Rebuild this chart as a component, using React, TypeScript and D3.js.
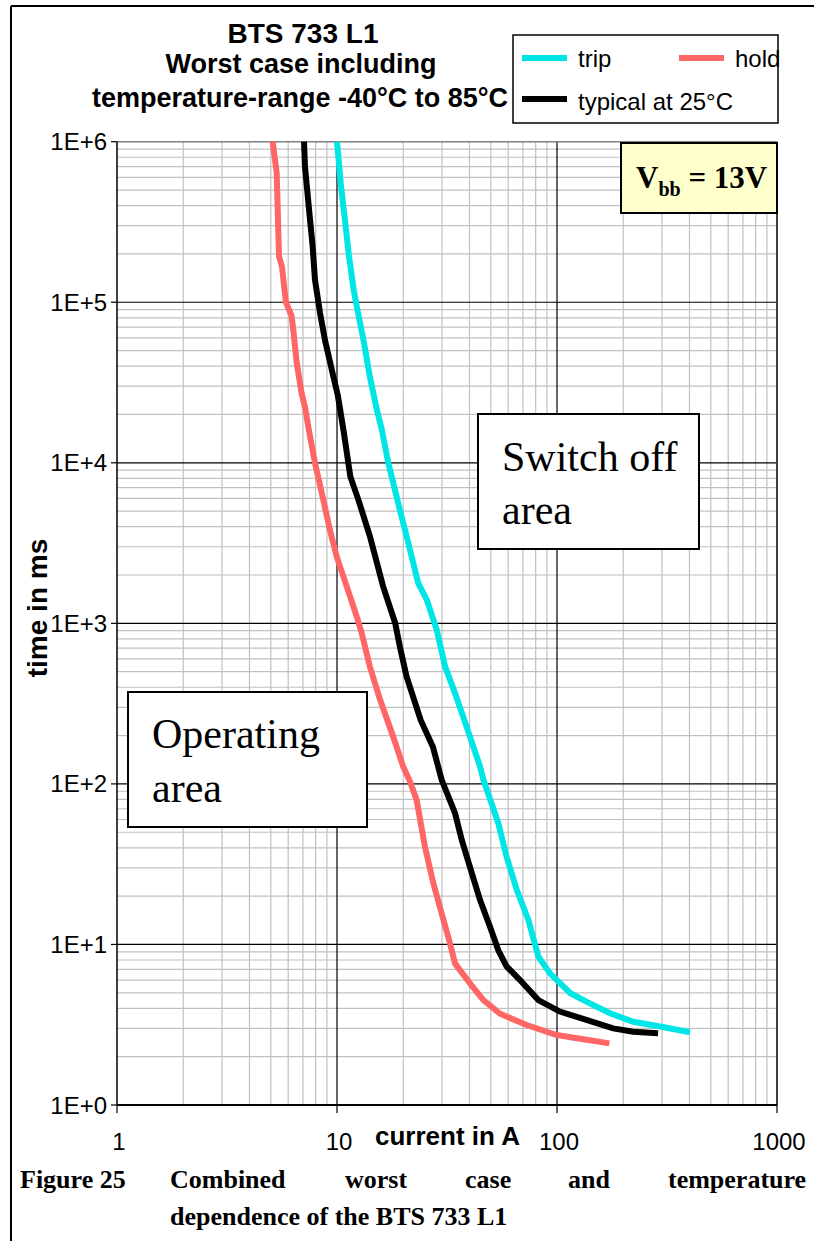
import React from "react";
import * as d3 from "d3";

// ---- data ----
const holdCurrent = [5.10, 5.32, 5.45, 5.62, 5.86, 6.22, 6.33, 6.56, 6.91, 7.16, 7.45, 7.94, 8.66, 9.29, 9.97, 11.07, 12.3, 12.95, 14.1, 15.7, 18.0, 20.0, 21.5, 23.0, 25.1, 27.4, 29.9, 32.6, 34.4, 40.3, 46.3, 55.1, 72.8, 99.7, 132, 173];
const holdTime = [1e6, 6.4e5, 1.93e5, 1.67e5, 1.0e5, 8.2e4, 6.7e4, 4.2e4, 2.7e4, 2.2e4, 1.6e4, 1.0e4, 5.9e3, 3.8e3, 2.6e3, 1.7e3, 1.1e3, 869, 538, 334, 197, 128, 103, 79.5, 40.7, 24.1, 15.6, 10.2, 7.6, 5.7, 4.5, 3.7, 3.15, 2.73, 2.57, 2.42];

const typCurrent = [7.08, 7.15, 7.54, 7.75, 7.94, 8.37, 8.82, 9.62, 10.1, 10.7, 11.5, 12.5, 14.1, 16.2, 18.4, 19.3, 20.7, 24.0, 27.3, 29.9, 34.4, 36.9, 41.0, 44.7, 49.6, 54.1, 59.0, 67.9, 82.3, 103, 136, 180, 222, 288];
const typTime = [1e6, 7.0e5, 3.27e5, 2.23e5, 1.38e5, 8.6e4, 5.8e4, 3.45e4, 2.6e4, 1.6e4, 8.2e3, 5.9e3, 3.5e3, 1.7e3, 1.0e3, 718, 467, 250, 170, 106, 65.7, 44.8, 27.8, 18.9, 12.9, 9.2, 7.3, 6.0, 4.5, 3.82, 3.39, 3.0, 2.86, 2.8];

const tripCurrent = [10.0, 10.4, 10.8, 11.3, 11.9, 12.3, 13.2, 14.1, 15.1, 16.0, 17.1, 19.3, 21.1, 23.4, 25.6, 28.4, 31.0, 34.4, 38.8, 44.7, 46.3, 54.1, 59.0, 65.6, 74.1, 82.3, 92.9, 115, 136, 174, 222, 294, 402];
const tripTime = [1e6, 5.5e5, 3.5e5, 2.0e5, 1.2e5, 9.4e4, 5.8e4, 3.45e4, 2.2e4, 1.6e4, 1.0e4, 5.1e3, 3.16e3, 1.78e3, 1.4e3, 912, 538, 367, 228, 128, 106, 56.9, 35.2, 21.9, 14.2, 8.4, 6.6, 4.97, 4.4, 3.73, 3.3, 3.08, 2.84];

const xTickValues = [1, 10, 100, 1000];
const xTickLabels = ["1", "10", "100", "1000"];
const yTickValues = [1, 10, 100, 1000, 1e4, 1e5, 1e6];
const yTickLabels = ["1E+0", "1E+1", "1E+2", "1E+3", "1E+4", "1E+5", "1E+6"];

const titleLines = ["BTS 733 L1", "Worst case including", "temperature-range -40°C to 85°C"];
const legendLabels = { trip: "trip", hold: "hold", typ: "typical at 25°C" };
const captionWords = ["Figure 25", "Combined", "worst", "case", "and", "temperature"];
const captionLine2 = "dependence of the BTS 733 L1";

const COLORS = { trip: "#00E5E5", hold: "#FF6666", typ: "#000000" };
const SANS = "'Liberation Sans', Arial, sans-serif";
const SERIF = "'Liberation Serif', 'Times New Roman', serif";

const W = 814;
const H = 1241;
const plot = { left: 117, right: 777, top: 141.7, bottom: 1105 };

export default function App() {
  const x = d3.scaleLog().domain([1, 1000]).range([plot.left, plot.right]);
  const y = d3.scaleLog().domain([1, 1e6]).range([plot.bottom, plot.top]);

  const minorX: number[] = [];
  for (let k = 0; k < 3; k++) for (let m = 2; m <= 9; m++) minorX.push(m * Math.pow(10, k));
  const minorY: number[] = [];
  for (let k = 0; k < 6; k++) for (let m = 2; m <= 9; m++) minorY.push(m * Math.pow(10, k));

  const line = d3
    .line<[number, number]>()
    .x((d) => x(d[0]))
    .y((d) => y(d[1]))
    .curve(d3.curveLinear);

  const zip = (a: number[], b: number[]) => a.map((v, i) => [v, b[i]] as [number, number]);
  const series = [
    { key: "hold", data: zip(holdCurrent, holdTime), color: COLORS.hold },
    { key: "typ", data: zip(typCurrent, typTime), color: COLORS.typ },
    { key: "trip", data: zip(tripCurrent, tripTime), color: COLORS.trip },
  ];

  const captionX = [20, 170, 345, 465, 568, 668];

  return (
    <svg
      width={W}
      height={H}
      style={{ position: "absolute", left: 0, top: 0, background: "#fff" }}
    >
      {/* outer frame */}
      <line x1={11} y1={6} x2={W} y2={6} stroke="#000" strokeWidth={2} />
      <line x1={11} y1={6} x2={11} y2={H} stroke="#000" strokeWidth={2} />

      {/* title */}
      <text x={303} y={43} textAnchor="middle" fontFamily={SANS} fontWeight="bold" fontSize={28}>
        {titleLines[0]}
      </text>
      <text x={301} y={73} textAnchor="middle" fontFamily={SANS} fontWeight="bold" fontSize={27}>
        {titleLines[1]}
      </text>
      <text x={300} y={107} textAnchor="middle" fontFamily={SANS} fontWeight="bold" fontSize={27}>
        {titleLines[2]}
      </text>

      {/* minor grid */}
      {minorX.map((v) => (
        <line key={"mx" + v} x1={x(v)} x2={x(v)} y1={plot.top} y2={plot.bottom} stroke="#c0c0c0" strokeWidth={1.2} />
      ))}
      {minorY.map((v) => (
        <line key={"my" + v} x1={plot.left} x2={plot.right} y1={y(v)} y2={y(v)} stroke="#c0c0c0" strokeWidth={1.2} />
      ))}
      {/* major grid */}
      {[10, 100].map((v) => (
        <line key={"Mx" + v} x1={x(v)} x2={x(v)} y1={plot.top} y2={plot.bottom} stroke="#000" strokeWidth={1.2} />
      ))}
      {[10, 100, 1000, 1e4, 1e5].map((v) => (
        <line key={"My" + v} x1={plot.left} x2={plot.right} y1={y(v)} y2={y(v)} stroke="#000" strokeWidth={1.2} />
      ))}
      {/* plot frame */}
      <line x1={plot.left} x2={plot.right} y1={plot.top} y2={plot.top} stroke="#808080" strokeWidth={1.5} />
      <line x1={plot.right} x2={plot.right} y1={plot.top} y2={plot.bottom} stroke="#404040" strokeWidth={2} />
      <line x1={plot.left} x2={plot.left} y1={plot.top} y2={plot.bottom} stroke="#000" strokeWidth={1.5} />
      <line x1={plot.left} x2={plot.right} y1={plot.bottom} y2={plot.bottom} stroke="#000" strokeWidth={2} />

      {/* y ticks */}
      {yTickValues.map((v, i) => (
        <g key={"yt" + v}>
          <line x1={plot.left - 6} x2={plot.left} y1={y(v)} y2={y(v)} stroke="#000" strokeWidth={1.2} />
          <text x={107} y={y(v) + 8.5} textAnchor="end" fontFamily={SANS} fontSize={24}>
            {yTickLabels[i]}
          </text>
        </g>
      ))}
      {/* x ticks */}
      {xTickValues.map((v, i) => (
        <g key={"xt" + v}>
          <line x1={x(v)} x2={x(v)} y1={plot.bottom} y2={plot.bottom + 8} stroke="#000" strokeWidth={1.2} />
          <text x={x(v) + 2} y={1150} textAnchor="middle" fontFamily={SANS} fontSize={24}>
            {xTickLabels[i]}
          </text>
        </g>
      ))}

      {/* axis titles */}
      <text x={375} y={1145} fontFamily={SANS} fontWeight="bold" fontSize={26}>
        current in A
      </text>
      <text
        transform="translate(47,608) rotate(-90)"
        textAnchor="middle"
        fontFamily={SANS}
        fontWeight="bold"
        fontSize={28}
      >
        time in ms
      </text>

      {/* curves */}
      {series.map((s) => (
        <path key={s.key} d={line(s.data) || ""} fill="none" stroke={s.color} strokeWidth={6} />
      ))}

      {/* Operating area box */}
      <rect x={128} y={692} width={239} height={135} fill="#fff" stroke="#000" strokeWidth={2} />
      <text fontFamily={SERIF} fontSize={42}>
        <tspan x={152} y={748}>Operating</tspan>
        <tspan x={152} y={802}>area</tspan>
      </text>

      {/* Switch off area box */}
      <rect x={478} y={414} width={221} height={135} fill="#fff" stroke="#000" strokeWidth={2} />
      <text fontFamily={SERIF} fontSize={42}>
        <tspan x={502} y={471}>Switch off</tspan>
        <tspan x={502} y={524}>area</tspan>
      </text>

      {/* Vbb box */}
      <rect x={621} y={143} width={156} height={70} fill="#FFFFCC" stroke="#000" strokeWidth={2} />
      <text x={636} y={188} fontFamily={SERIF} fontWeight="bold" fontSize={31}>
        V
        <tspan fontSize={20} dy={8}>bb</tspan>
        <tspan dy={-8}> = 13V</tspan>
      </text>

      {/* legend */}
      <rect x={513} y={35} width={265} height={88} fill="#fff" stroke="#000" strokeWidth={1.5} />
      <line x1={522} x2={567} y1={58} y2={58} stroke={COLORS.trip} strokeWidth={6} />
      <text x={578} y={67} fontFamily={SANS} fontSize={24}>{legendLabels.trip}</text>
      <line x1={679} x2={724} y1={58} y2={58} stroke={COLORS.hold} strokeWidth={6} />
      <text x={735} y={67} fontFamily={SANS} fontSize={24}>{legendLabels.hold}</text>
      <line x1={522} x2={567} y1={99} y2={99} stroke={COLORS.typ} strokeWidth={6} />
      <text x={578} y={110} fontFamily={SANS} fontSize={24}>{legendLabels.typ}</text>

      {/* caption */}
      {captionWords.map((w, i) => (
        <text key={w} x={captionX[i]} y={1188} fontFamily={SERIF} fontWeight="bold" fontSize={26}>
          {w}
        </text>
      ))}
      <text x={170} y={1225} fontFamily={SERIF} fontWeight="bold" fontSize={26}>
        {captionLine2}
      </text>
    </svg>
  );
}
